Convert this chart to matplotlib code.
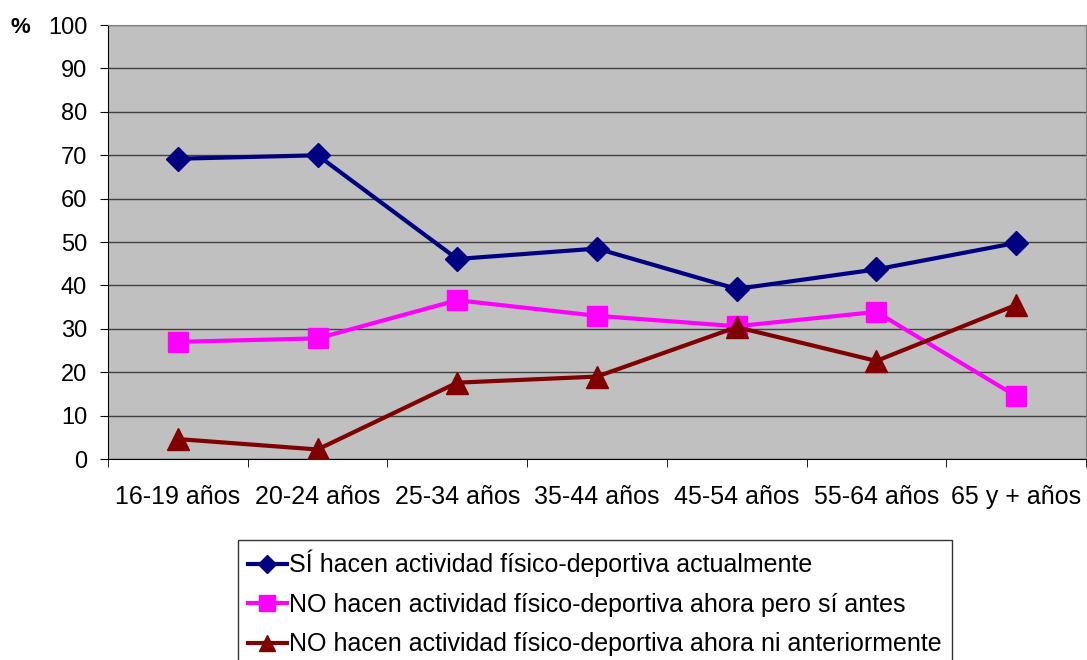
import numpy as np
import matplotlib.pyplot as plt
from matplotlib.ticker import FixedLocator

# Data
categories = ['16-19 años', '20-24 años', '25-34 años', '35-44 años',
              '45-54 años', '55-64 años', '65 y + años']
si_actual = [69.2, 70.0, 46.1, 48.5, 39.2, 43.7, 49.8]
no_antes = [27.0, 27.8, 36.6, 33.0, 30.6, 33.9, 14.5]
no_nunca = [4.6, 2.2, 17.6, 19.0, 30.4, 22.6, 35.5]

labels = ['SÍ hacen actividad físico-deportiva actualmente',
          'NO hacen actividad físico-deportiva ahora pero sí antes',
          'NO hacen actividad físico-deportiva ahora ni anteriormente']

plt.rcParams['font.family'] = ['Liberation Sans', 'DejaVu Sans']

fig = plt.figure(figsize=(10.87, 6.6), dpi=100)
ax = fig.add_axes([0.0994, 0.3045, 0.8996, 0.6575])
ax.set_facecolor('#C0C0C0')

x = np.arange(len(categories))
ax.plot(x, si_actual, color='#000080', lw=3, marker='D', ms=12, label=labels[0], zorder=3)
ax.plot(x, no_antes, color='#FF00FF', lw=3, marker='s', ms=15, label=labels[1], zorder=3)
ax.plot(x, no_nunca, color='#800000', lw=3, marker='^', ms=16, label=labels[2], zorder=3)

ax.set_xlim(-0.5, len(categories) - 0.5)
ax.set_ylim(0, 100)
ax.set_yticks(np.arange(0, 101, 10))
ax.yaxis.grid(True, color='#404040', lw=1)
ax.set_axisbelow(True)

ax.set_xticks(x)
ax.set_xticklabels(categories)
ax.tick_params(axis='x', which='major', length=0, pad=19, labelsize=18)
ax.xaxis.set_minor_locator(FixedLocator(np.arange(-0.5, len(categories), 1)))
ax.tick_params(axis='x', which='minor', length=6, direction='out', color='black')
ax.tick_params(axis='y', length=6, direction='out', labelsize=17, pad=9)

for side in ['top', 'right']:
    ax.spines[side].set_color('#808080')
for side in ['left', 'bottom']:
    ax.spines[side].set_color('black')

fig.text(0.010, 0.958, '%', fontsize=16, fontweight='bold', va='center')

leg = fig.legend(loc='upper left', bbox_to_anchor=(0.219, 0.182), frameon=True,
                 fancybox=False, edgecolor='black', fontsize=18,
                 handlelength=1.55, handletextpad=0.1, labelspacing=0.62,
                 borderpad=0.4, borderaxespad=0, markerscale=0.75)
leg.get_frame().set_linewidth(1)

fig.savefig('out.png', dpi=100)
